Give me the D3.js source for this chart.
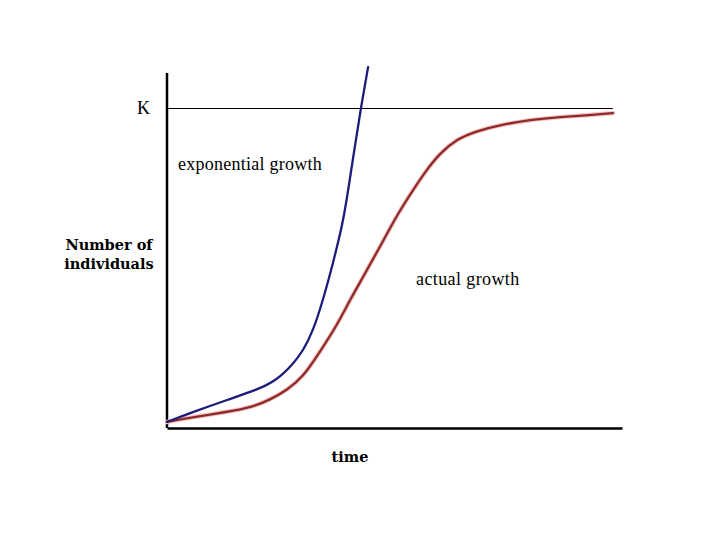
<!DOCTYPE html>
<html><head><meta charset="utf-8">
<script src="https://cdn.jsdelivr.net/npm/d3@7"></script>
<style>body{margin:0;background:#fff}svg{display:block}</style>
</head><body>
<script>
const expTime   = [0, 5.7, 13.2, 19.8, 24.2, 27.7, 29.9, 32.1, 34.3, 36.5, 38.5, 39.6, 41.1, 42.6, 44.2];
const expValue  = [1.9, 5.0, 8.8, 11.9, 15.0, 20.0, 24.1, 30.3, 40.0, 51.6, 63.1, 72.2, 86.3, 100, 112.8];
const actTime   = [0, 5.7, 13.2, 18.9, 22.6, 26.4, 29.9, 33.6, 37.4, 40.2, 43.1, 46.8, 50.8, 54.1, 56.7, 60.0, 63.7, 68.1, 73.2, 79.8, 86.4, 93.0, 98.0];
const actValue  = [1.9, 3.4, 5.0, 6.6, 8.8, 11.9, 15.9, 23.8, 32.2, 40.0, 47.2, 56.6, 67.2, 74.4, 80.0, 85.9, 90.3, 92.8, 94.7, 96.3, 97.2, 97.8, 98.4];
const carryingCapacity = 100;
const kLabel = "K";
const yLabel = ["Number of", "individuals"];
const xLabel = "time";

const W = 720, H = 540;
const svg = d3.select("body").append("svg").attr("width", W).attr("height", H);
const x = d3.scaleLinear().domain([0, 100]).range([167, 622]);
const y = d3.scaleLinear().domain([0, 100]).range([428, 108]);
const serif = "'Liberation Serif', 'DejaVu Serif', serif";
const boldSerif = "'DejaVu Serif', serif";

// K line
svg.append("line")
  .attr("x1", x(0)).attr("x2", x(98)).attr("y1", y(carryingCapacity) + 0.5).attr("y2", y(carryingCapacity) + 0.5)
  .attr("stroke", "#000").attr("stroke-width", 1);

// axes
const yAxis = d3.axisLeft(y).tickValues([carryingCapacity]).tickFormat(() => kLabel).tickSize(0).tickPadding(17);
const gy = svg.append("g").attr("transform", `translate(${x(0)},0)`).call(yAxis);
gy.select(".domain").attr("d", `M0,${y(0)}V${y(110.9)}`).attr("stroke", "#000").attr("stroke-width", 2.5);
gy.selectAll("text").attr("font-family", serif).attr("font-size", 18).attr("fill", "#000");

const xAxis = d3.axisBottom(x).tickValues([]).tickSize(0).tickSizeOuter(0);
const gx = svg.append("g").attr("transform", `translate(0,${y(0)})`).call(xAxis);
gx.select(".domain").attr("stroke", "#000").attr("stroke-width", 2.5);

const line = d3.line().x(d => x(d[0])).y(d => y(d[1])).curve(d3.curveBasis);
const expData = expTime.map((t, i) => [t, expValue[i]]);
const actData = actTime.map((t, i) => [t, actValue[i]]);

// halo for red curve
svg.append("path").datum(actData).attr("d", line).attr("fill", "none")
  .attr("stroke", "#f4c4c4").attr("stroke-width", 4.5).attr("stroke-linecap", "round");
svg.append("path").datum(actData).attr("d", line).attr("fill", "none")
  .attr("stroke", "#8e2a2a").attr("stroke-width", 2.3).attr("stroke-linecap", "round");
svg.append("path").datum(expData).attr("d", line).attr("fill", "none")
  .attr("stroke", "#1c1c7a").attr("stroke-width", 2.3).attr("stroke-linecap", "round");

// labels
svg.append("text").attr("x", 178).attr("y", 170).attr("font-family", serif).attr("font-size", 18)
  .attr("letter-spacing", 0.25).text("exponential growth");
svg.append("text").attr("x", 416).attr("y", 285).attr("font-family", serif).attr("font-size", 18)
  .attr("letter-spacing", 0.4).text("actual growth");
const yl = svg.append("text").attr("font-family", boldSerif).attr("font-size", 14.5).attr("font-weight", "bold")
  .attr("text-anchor", "middle");
yLabel.forEach((s, i) => yl.append("tspan").attr("x", 109).attr("y", 250 + i * 19).text(s));
svg.append("text").attr("x", 350).attr("y", 462).attr("text-anchor", "middle")
  .attr("font-family", boldSerif).attr("font-size", 14.5).attr("font-weight", "bold").text(xLabel);
</script>
</body></html>
